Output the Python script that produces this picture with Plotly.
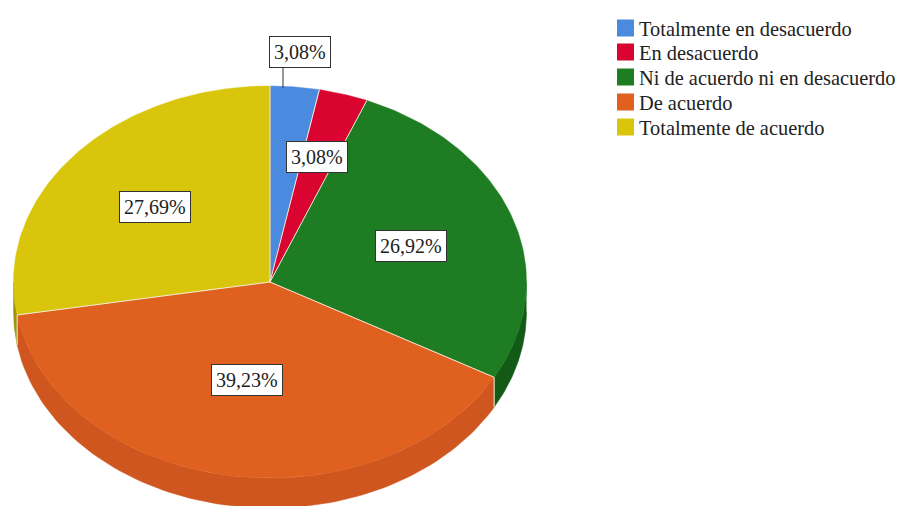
import numpy as np
import plotly.graph_objects as go

# Survey shares, in percent, clockwise from twelve o'clock
categories = ["Totalmente en desacuerdo", "En desacuerdo", "Ni de acuerdo ni en desacuerdo",
              "De acuerdo", "Totalmente de acuerdo"]
shares = [3.08, 3.08, 26.92, 39.23, 27.69]

face_colors = ["#4A8BE0", "#D9042F", "#1E7D22", "#E0601F", "#D9C60C"]
wall_colors = ["#35659F", "#9A0322", "#135A16", "#CF571F", "#9E9408"]

# Tilted-disc geometry in page pixels
CX, CY, RX, RY, DEPTH = 270, 282, 256.5, 196, 30
label_centres = [(300, 51.5), (317, 157), (411, 245.5), (247, 380), (155, 207)]
legend_rows = [28, 52, 77, 102, 127]
KEY_LEFT, KEY_SIZE, LEGEND_TEXT_X = 617, 17, 637
FONT = "Liberation Serif"
SEAM = "#F3E9D8"


def rim(a0, a1, n=90):
    """Ellipse points between two clockwise angles measured from the top."""
    t = np.radians(np.linspace(a0, a1, n))
    return CX + RX * np.sin(t), CY - RY * np.cos(t)


edges = np.concatenate([[0], np.cumsum(shares)]) * 3.6
fig = go.Figure()

# Side walls show only on the lower half of the disc
for a0, a1, col in zip(edges[:-1], edges[1:], wall_colors):
    lo, hi = max(a0, 90), min(a1, 270)
    if hi <= lo:
        continue
    x, y = rim(lo, hi)
    fig.add_trace(go.Scatter(
        x=np.concatenate([x, x[::-1]]), y=np.concatenate([y, y[::-1] + DEPTH]),
        mode="lines", fill="toself", fillcolor=col, line=dict(color=col, width=0.5),
        hoverinfo="skip", showlegend=False))

# Top faces of the slices
for a0, a1, col, name, v in zip(edges[:-1], edges[1:], face_colors, categories, shares):
    x, y = rim(a0, a1)
    fig.add_trace(go.Scatter(
        x=np.concatenate([[CX], x, [CX]]), y=np.concatenate([[CY], y, [CY]]),
        mode="lines", fill="toself", fillcolor=col, line=dict(color=col, width=0.5),
        name=name, text=f"{v:.2f}%", hoverinfo="name+text", showlegend=False))

# Pale seams between neighbouring slices, continued down the wall where visible
for a in edges[:-1]:
    x, y = rim(a, a, n=1)
    sx, sy = [CX, x[0]], [CY, y[0]]
    if 90 < a < 270:
        sx.append(x[0])
        sy.append(y[0] + DEPTH)
    fig.add_trace(go.Scatter(x=sx, y=sy, mode="lines", line=dict(color=SEAM, width=1),
                             hoverinfo="skip", showlegend=False))

# Leader from the first label to its slice
fig.add_shape(type="line", x0=283, x1=283, y0=66, y1=88,
              line=dict(color="#333333", width=1))

# Value labels
for (lx, ly), v in zip(label_centres, shares):
    fig.add_annotation(
        x=lx, y=ly, text=f"{v:.2f}".replace(".", ",") + "%", showarrow=False,
        font=dict(family=FONT, size=20, color="#222222"),
        bgcolor="#FFFFFF", bordercolor="#333333", borderwidth=1, borderpad=4)

# Legend column: colour keys with their captions
for name, col, row in zip(categories, face_colors, legend_rows):
    fig.add_shape(type="rect", x0=KEY_LEFT, x1=KEY_LEFT + KEY_SIZE,
                  y0=row - KEY_SIZE / 2, y1=row + KEY_SIZE / 2,
                  fillcolor=col, line=dict(width=0))
    fig.add_annotation(
        x=LEGEND_TEXT_X, y=row + 1, text=name, showarrow=False, xanchor="left",
        font=dict(family=FONT, size=20.4, color="#222222"))

fig.update_layout(
    width=899, height=506, margin=dict(l=0, r=0, t=0, b=0),
    paper_bgcolor="#FFFFFF", plot_bgcolor="#FFFFFF", showlegend=False,
    xaxis=dict(range=[0, 899], visible=False, fixedrange=True),
    yaxis=dict(range=[506, 0], visible=False, fixedrange=True),
)

fig.write_html("out.html")
